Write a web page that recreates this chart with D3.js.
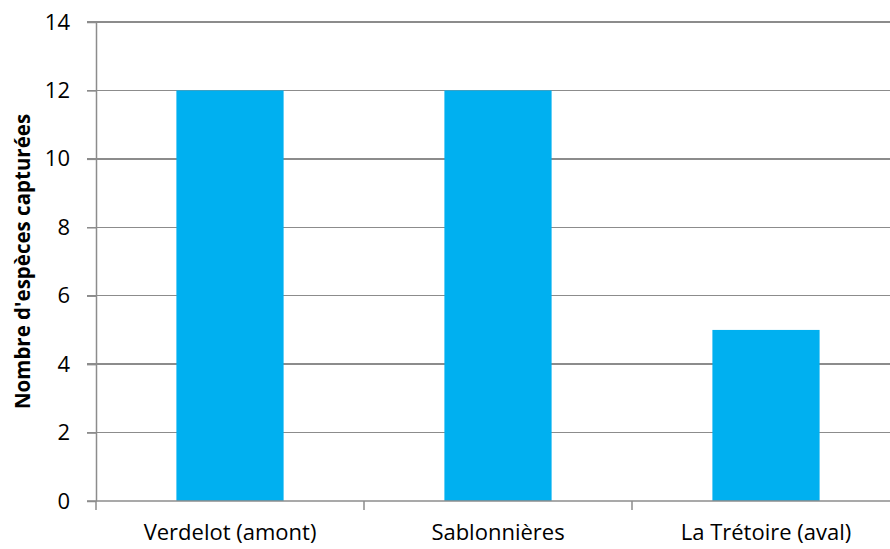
<!DOCTYPE html>
<html><head><meta charset="utf-8">
<script src="https://cdn.jsdelivr.net/npm/d3@7"></script>
<style>body{margin:0;background:#fff}svg{display:block}</style>
</head><body>
<script>
const categories = ["Verdelot (amont)", "Sablonnières", "La Trétoire (aval)"];
const values = [12, 12, 5];
const yTicks = [0, 2, 4, 6, 8, 10, 12, 14];
const yTitle = "Nombre d'espèces capturées";

const W = 890, H = 549;
const mLeft = 96, mRight = 900, mTop = 22, mBottom = 501;
const font = "'Open Sans', Carlito, Calibri, sans-serif";

const svg = d3.select("body").append("svg").attr("width", W).attr("height", H);

const x = d3.scaleBand().domain(categories).range([mLeft, mRight]).paddingInner(0.6).paddingOuter(0.3);
const xOuter = d3.scaleBand().domain(categories).range([mLeft, mRight]);
const y = d3.scaleLinear().domain([0, 14]).range([mBottom, mTop]);

// gridlines
svg.append("g").selectAll("line").data(yTicks.filter(d => d > 0)).join("line")
  .attr("x1", mLeft - 9).attr("x2", W).attr("y1", d => y(d)).attr("y2", d => y(d))
  .attr("stroke", "#8c8c8c").attr("stroke-width", 1.5).attr("shape-rendering", "crispEdges");

// bars
svg.append("g").selectAll("rect").data(values).join("rect")
  .attr("x", (d, i) => x(categories[i])).attr("width", x.bandwidth())
  .attr("y", d => y(d)).attr("height", d => y(0) - y(d))
  .attr("fill", "#00B0F0");

// y axis
const yAxis = d3.axisLeft(y).tickValues(yTicks).tickSize(9).tickPadding(17).tickSizeOuter(0);
const gy = svg.append("g").attr("transform", `translate(${mLeft},0)`).call(yAxis);
gy.select(".domain").attr("stroke", "#8c8c8c").attr("stroke-width", 1.5);
gy.selectAll(".tick line").attr("stroke", "#8c8c8c").attr("stroke-width", 1.5);
gy.selectAll("text").attr("font-family", font).attr("font-size", 22).attr("fill", "#000");

// x axis
const xAxis = d3.axisBottom(xOuter).tickSize(0).tickPadding(23).tickSizeOuter(0);
const gx = svg.append("g").attr("transform", `translate(0,${mBottom})`).call(xAxis);
gx.select(".domain").attr("stroke", "#8c8c8c").attr("stroke-width", 1.5).attr("d", `M${mLeft - 9},0H${W}`);
gx.selectAll("text").attr("font-family", font).attr("font-size", 22).attr("fill", "#000");
// category boundary ticks
svg.append("g").selectAll("line").data(categories).join("line")
  .attr("x1", d => xOuter(d)).attr("x2", d => xOuter(d))
  .attr("y1", mBottom).attr("y2", mBottom + 9)
  .attr("stroke", "#8c8c8c").attr("stroke-width", 1.5);

// y title
svg.append("text")
  .attr("transform", `translate(22,${(mTop + mBottom) / 2}) rotate(-90)`)
  .attr("text-anchor", "middle").attr("dominant-baseline", "central")
  .attr("font-family", font).attr("font-size", 20.5).attr("font-weight", "bold")
  .text(yTitle);
</script>
</body></html>
